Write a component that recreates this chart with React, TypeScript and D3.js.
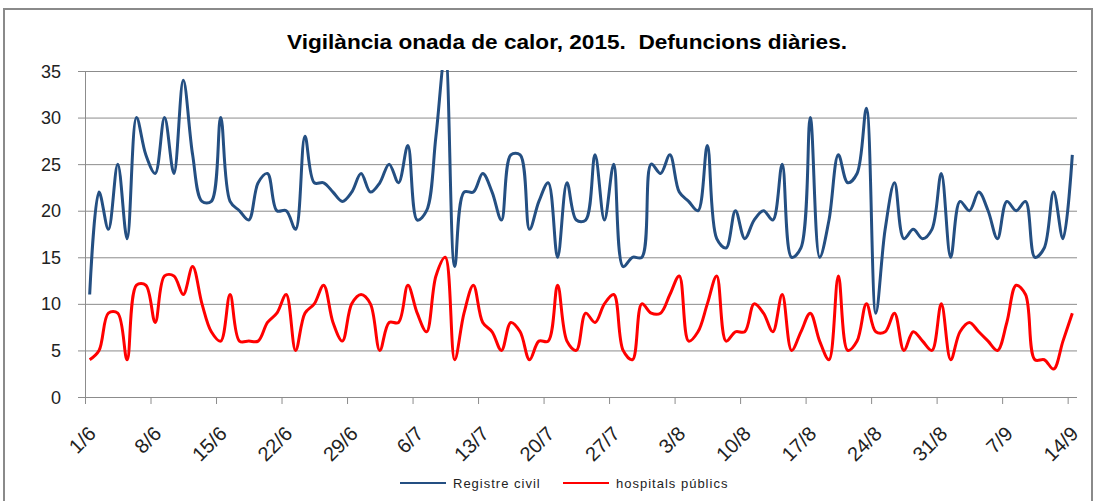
import React, { useEffect, useRef } from 'react';
import * as d3 from 'd3';

const title = 'Vigilància onada de calor, 2015.  Defuncions diàries.';
const seriesNames = ['Registre civil', 'hospitals públics'];
const seriesColors = ['#244f82', '#ff0000'];

// one value per day, 1/6 .. 14/9
const registreCivil = [
    11, 22, 18, 25, 17, 30, 26, 24, 30, 24, 34, 26, 21, 21, 30, 21, 20, 19, 23, 24,
    20, 20, 18, 28, 23, 23, 22, 21, 22, 24, 22, 23, 25, 23, 27, 19, 20, 28, 37, 14,
    22, 22, 24, 22, 19, 26, 26, 18, 21, 23, 15, 23, 19, 19, 26, 19, 25, 14, 15, 15,
    25, 24, 26, 22, 21, 20, 27, 17, 16, 20, 17, 19, 20, 19, 25, 15, 16, 30, 15, 19,
    26, 23, 24, 31, 9, 18, 23, 17, 18, 17, 18, 24, 15, 21, 20, 22, 20, 17, 21, 20,
    21, 15, 16, 22, 17, 26
];
const hospitalsPublics = [
    4, 5, 9, 9, 4, 12, 12, 8, 13, 13, 11, 14, 10, 7, 6, 11, 6, 6, 6, 8,
    9, 11, 5, 9, 10, 12, 8, 6, 10, 11, 10, 5, 8, 8, 12, 9, 7, 13, 15, 4,
    9, 12, 8, 7, 5, 8, 7, 4, 6, 6, 12, 6, 5, 9, 8, 10, 11, 5, 4, 10,
    9, 9, 11, 13, 6, 7, 10, 13, 6, 7, 7, 10, 9, 7, 11, 5, 7, 9, 6, 4,
    13, 5, 6, 10, 7, 7, 9, 5, 7, 6, 5, 10, 4, 7, 8, 7, 6, 5, 8, 12,
    11, 4, 4, 3, 6, 9
];
const xTickLabels = ['1/6', '8/6', '15/6', '22/6', '29/6', '6/7', '13/7', '20/7', '27/7', '3/8', '10/8', '17/8', '24/8', '31/8', '7/9', '14/9'];
const yTicks = [0, 5, 10, 15, 20, 25, 30, 35];

const width = 1097;
const height = 501;
const plot = {left: 85, right: 1077, top: 71, bottom: 397};
const font = '"Liberation Sans", Arial, sans-serif';

function App() {
    const ref = useRef(null);

    useEffect(() => {
        const svg = d3.select(ref.current);
        svg.selectAll('*').remove();

        const n = registreCivil.length;
        const x = d3.scaleLinear().domain([0, n]).range([plot.left, plot.right]);
        const y = d3.scaleLinear().domain([0, 35]).range([plot.bottom, plot.top]);

        svg.append('rect')
            .attr('width', width).attr('height', height).attr('fill', '#fff');
        // chart frame
        svg.append('rect')
            .attr('x', 4).attr('y', 9).attr('width', 1088).attr('height', 520)
            .attr('fill', 'none').attr('stroke', '#8a8a8a').attr('stroke-width', 2);

        svg.append('text')
            .attr('x', 567).attr('y', 49)
            .attr('text-anchor', 'middle')
            .style('white-space', 'pre')
            .attr('textLength', 560).attr('lengthAdjust', 'spacingAndGlyphs')
            .attr('font-family', font).attr('font-weight', 'bold').attr('font-size', 20)
            .text(title);

        // gridlines + y ticks
        svg.append('g').selectAll('line')
            .data(yTicks)
            .enter().append('line')
            .attr('x1', plot.left - 7).attr('x2', plot.right)
            .attr('y1', d => y(d) + 0.5).attr('y2', d => y(d) + 0.5)
            .attr('stroke', '#8c8c8c').attr('stroke-width', 1);
        svg.append('g').selectAll('text')
            .data(yTicks)
            .enter().append('text')
            .attr('x', 61).attr('y', d => y(d) + 6.5)
            .attr('text-anchor', 'end')
            .attr('font-family', font).attr('font-size', 18).attr('fill', '#222')
            .text(d => d);

        // axes
        svg.append('line')
            .attr('x1', plot.left + 0.5).attr('x2', plot.left + 0.5)
            .attr('y1', plot.top).attr('y2', plot.bottom)
            .attr('stroke', '#8c8c8c');
        const xt = svg.append('g');
        xt.selectAll('line')
            .data(xTickLabels)
            .enter().append('line')
            .attr('x1', (d, i) => x(i * 7) + 0.5).attr('x2', (d, i) => x(i * 7) + 0.5)
            .attr('y1', plot.bottom).attr('y2', plot.bottom + 7)
            .attr('stroke', '#8c8c8c');
        xt.selectAll('text')
            .data(xTickLabels)
            .enter().append('text')
            .attr('transform', (d, i) => `translate(${x(i * 7) + 12}, ${plot.bottom + 38}) rotate(-45)`)
            .attr('text-anchor', 'end')
            .attr('font-family', font).attr('font-size', 20).attr('fill', '#222')
            .text(d => d);

        svg.append('clipPath').attr('id', 'plotClip')
            .append('rect')
            .attr('x', plot.left).attr('y', plot.top - 1)
            .attr('width', plot.right - plot.left).attr('height', plot.bottom - plot.top + 2);

        const line = d3.line()
            .x((d, i) => x(i + 0.5))
            .y(d => y(d))
            .curve(d3.curveCatmullRom.alpha(0.5));

        [registreCivil, hospitalsPublics].forEach((data, k) => {
            svg.append('path')
                .datum(data)
                .attr('clip-path', 'url(#plotClip)')
                .attr('d', line)
                .attr('fill', 'none')
                .attr('stroke', seriesColors[k])
                .attr('stroke-width', 3)
                .attr('stroke-linejoin', 'round');
        });

        // legend
        const legendX = [400, 563];
        seriesNames.forEach((name, k) => {
            svg.append('line')
                .attr('x1', legendX[k]).attr('x2', legendX[k] + 46)
                .attr('y1', 483).attr('y2', 483)
                .attr('stroke', seriesColors[k]).attr('stroke-width', 2);
            svg.append('text')
                .attr('x', legendX[k] + 53).attr('y', 487.5)
                .attr('font-family', font).attr('font-size', 13).attr('letter-spacing', 1)
                .attr('fill', '#222')
                .text(name);
        });
    }, []);

    return (
        <div style={{position: 'absolute', left: 0, top: 0}}>
            <svg ref={ref} width={width} height={height} style={{display: 'block'}}/>
        </div>
    );
}

export default App;
